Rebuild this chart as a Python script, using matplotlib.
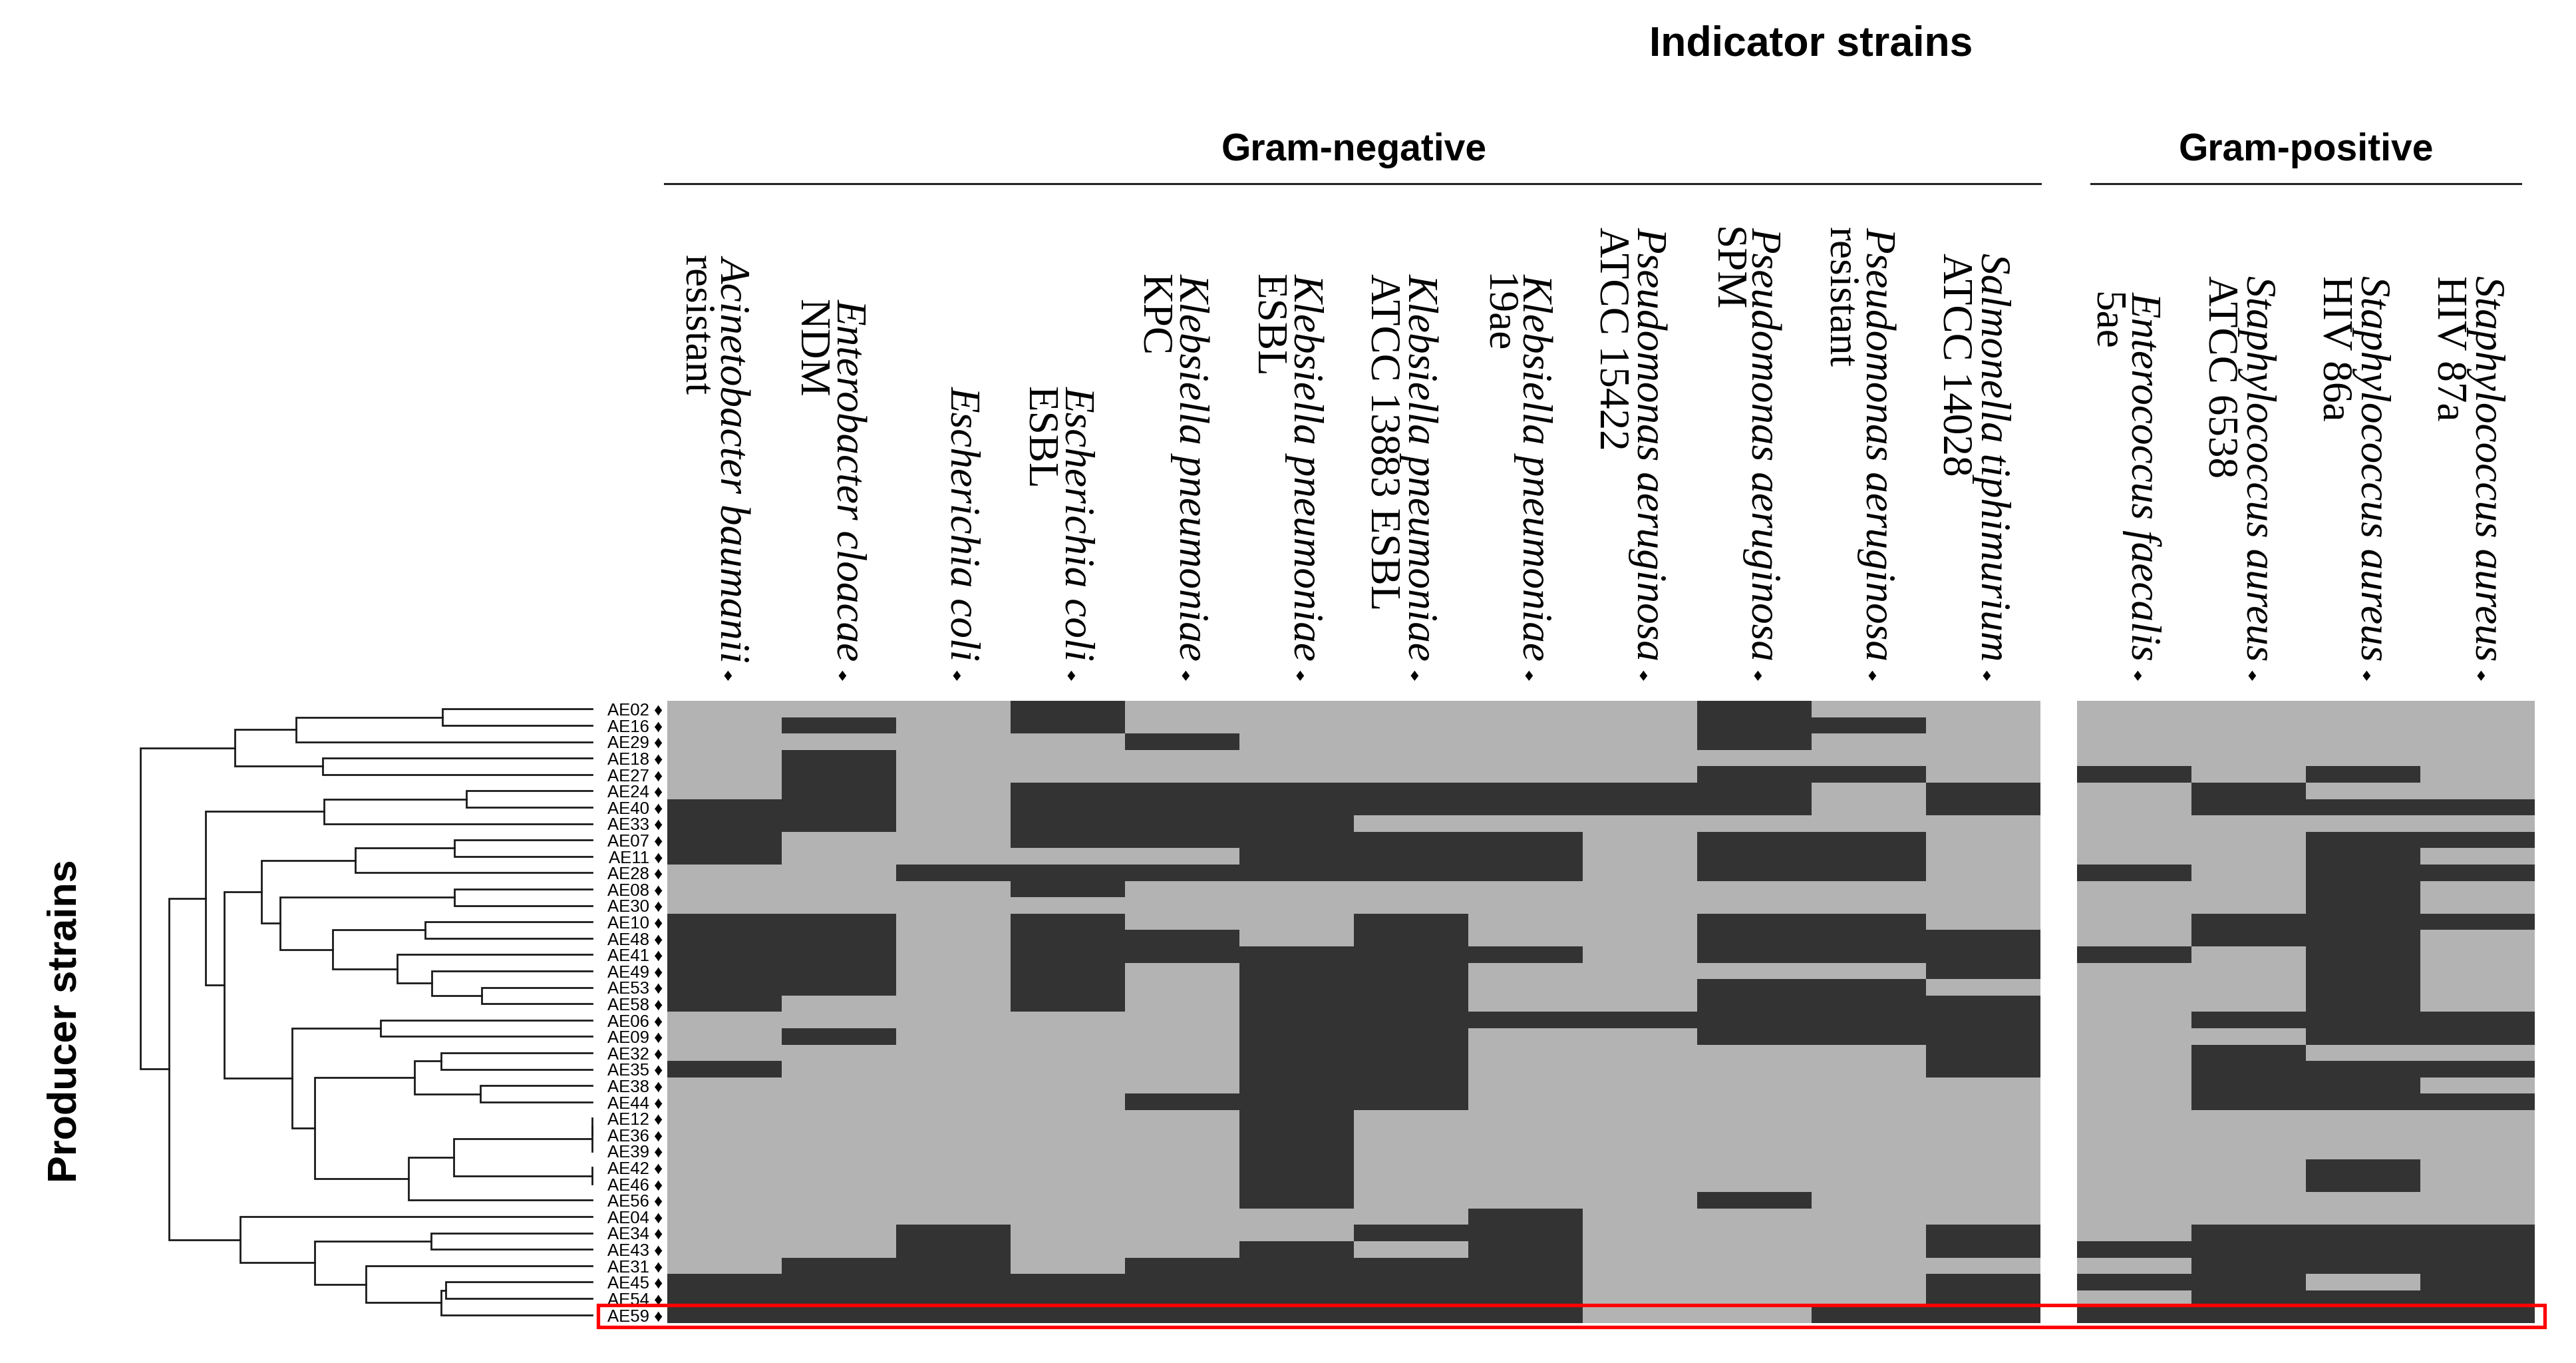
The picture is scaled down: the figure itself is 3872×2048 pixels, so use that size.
import numpy as np
import matplotlib
matplotlib.use("Agg")
import matplotlib.pyplot as plt
import matplotlib.transforms as mtransforms
from matplotlib.colors import ListedColormap
from matplotlib.patches import Rectangle

plt.rcParams['font.family'] = ['Liberation Sans', 'DejaVu Sans']

W, H = 3873, 2048

# producer strains, top to bottom (dendrogram order)
producers = ["AE02", "AE16", "AE29", "AE18", "AE27", "AE24", "AE40", "AE33",
             "AE07", "AE11", "AE28", "AE08", "AE30", "AE10", "AE48", "AE41",
             "AE49", "AE53", "AE58", "AE06", "AE09", "AE32", "AE35", "AE38",
             "AE44", "AE12", "AE36", "AE39", "AE42", "AE46", "AE56", "AE04",
             "AE34", "AE43", "AE31", "AE45", "AE54", "AE59"]

# indicator strains (first 12 gram-negative, last 4 gram-positive)
species = ["Acinetobacter baumanii", "Enterobacter cloacae", "Escherichia coli",
           "Escherichia coli", "Klebsiella pneumoniae", "Klebsiella pneumoniae",
           "Klebsiella pneumoniae", "Klebsiella pneumoniae", "Pseudomonas aeruginosa",
           "Pseudomonas aeruginosa", "Pseudomonas aeruginosa", "Salmonella tiphimurium",
           "Enterococcus faecalis", "Staphylococcus aureus", "Staphylococcus aureus",
           "Staphylococcus aureus"]
strains = ["resistant", "NDM", "", "ESBL", "KPC", "ESBL", "ATCC 13883 ESBL", "19ae",
           "ATCC 15422", "SPM", "resistant", "ATCC 14028",
           "5ae", "ATCC 6538", "HIV 86a", "HIV 87a"]
n_neg = 12

# producers showing inhibition of each indicator (dark cells)
hits = [
    ["AE40", "AE33", "AE07", "AE11", "AE10", "AE48", "AE41", "AE49", "AE53", "AE58",
     "AE35", "AE45", "AE54", "AE59"],
    ["AE16", "AE18", "AE27", "AE24", "AE40", "AE33", "AE10", "AE48", "AE41", "AE49",
     "AE53", "AE09", "AE31", "AE45", "AE54", "AE59"],
    ["AE28", "AE34", "AE43", "AE31", "AE45", "AE54", "AE59"],
    ["AE02", "AE16", "AE24", "AE40", "AE33", "AE07", "AE28", "AE08", "AE10", "AE48",
     "AE41", "AE49", "AE53", "AE58", "AE45", "AE54", "AE59"],
    ["AE29", "AE24", "AE40", "AE33", "AE07", "AE28", "AE48", "AE41", "AE44", "AE31",
     "AE45", "AE54", "AE59"],
    ["AE24", "AE40", "AE33", "AE07", "AE11", "AE28", "AE41", "AE49", "AE53", "AE58",
     "AE06", "AE09", "AE32", "AE35", "AE38", "AE44", "AE12", "AE36", "AE39", "AE42",
     "AE46", "AE56", "AE43", "AE31", "AE45", "AE54", "AE59"],
    ["AE24", "AE40", "AE07", "AE11", "AE28", "AE10", "AE48", "AE41", "AE49", "AE53",
     "AE58", "AE06", "AE09", "AE32", "AE35", "AE38", "AE44", "AE34", "AE31", "AE45",
     "AE54", "AE59"],
    ["AE24", "AE40", "AE07", "AE11", "AE28", "AE41", "AE06", "AE04", "AE34", "AE43",
     "AE31", "AE45", "AE54", "AE59"],
    ["AE24", "AE40", "AE06"],
    ["AE02", "AE16", "AE29", "AE27", "AE24", "AE40", "AE07", "AE11", "AE28", "AE10",
     "AE48", "AE41", "AE53", "AE58", "AE06", "AE09", "AE56"],
    ["AE16", "AE27", "AE07", "AE11", "AE28", "AE10", "AE48", "AE41", "AE53", "AE58",
     "AE06", "AE09", "AE59"],
    ["AE24", "AE40", "AE48", "AE41", "AE49", "AE58", "AE06", "AE09", "AE32", "AE35",
     "AE34", "AE43", "AE45", "AE54", "AE59"],
    ["AE27", "AE28", "AE41", "AE43", "AE45", "AE59"],
    ["AE24", "AE40", "AE10", "AE48", "AE06", "AE32", "AE35", "AE38", "AE44", "AE34",
     "AE43", "AE31", "AE45", "AE54", "AE59"],
    ["AE27", "AE40", "AE07", "AE11", "AE28", "AE08", "AE30", "AE10", "AE48", "AE41",
     "AE49", "AE53", "AE58", "AE06", "AE09", "AE35", "AE38", "AE44", "AE42", "AE46",
     "AE34", "AE43", "AE31", "AE54", "AE59"],
    ["AE40", "AE07", "AE28", "AE10", "AE06", "AE09", "AE35", "AE44", "AE34", "AE43",
     "AE31", "AE45", "AE54", "AE59"],
]

# hierarchical clustering merges: (left, right, height); ints refer to earlier merges
merges = [
    ("AE02", "AE16", 0.332), (0, "AE29", 0.655), ("AE18", "AE27", 0.596),
    (1, 2, 0.791), ("AE24", "AE40", 0.279), (4, "AE33", 0.593),
    ("AE07", "AE11", 0.305), (6, "AE28", 0.524), ("AE08", "AE30", 0.305),
    ("AE10", "AE48", 0.369), ("AE53", "AE58", 0.244), ("AE49", 10, 0.355),
    ("AE41", 11, 0.432), (9, 12, 0.574), (8, 13, 0.691), (7, 14, 0.732),
    ("AE06", "AE09", 0.469), ("AE32", "AE35", 0.334), ("AE38", "AE44", 0.248),
    (17, 18, 0.393), ("AE12", "AE36", 0.0), (20, "AE39", 0.0), ("AE42", "AE46", 0.0),
    (21, 22, 0.307), (23, "AE56", 0.406), (19, 24, 0.614), (16, 25, 0.664),
    (15, 26, 0.814), (5, 27, 0.855), ("AE34", "AE43", 0.356), ("AE45", "AE54", 0.324),
    (30, "AE59", 0.334), ("AE31", 31, 0.501), (29, 32, 0.614), ("AE04", 33, 0.779),
    (28, 34, 0.936), (3, 35, 1.0),
]

highlight = "AE59"


def fx(px):
    return px / W


def fy(py):
    return 1 - py / H


fig = plt.figure(figsize=(W / 100, H / 100), dpi=100)

top_px, bot_px = 1053, 1988
ax_neg = fig.add_axes([fx(1003), fy(bot_px), fx(3067) - fx(1003), (bot_px - top_px) / H])
ax_pos = fig.add_axes([fx(3122), fy(bot_px), fx(3810) - fx(3122), (bot_px - top_px) / H])
ax_dend = fig.add_axes([fx(211), fy(bot_px), fx(890) - fx(211), (bot_px - top_px) / H])

pos = {name: i for i, name in enumerate(producers)}
mat = np.zeros((len(producers), len(species)))
for j, col in enumerate(hits):
    for p in col:
        mat[pos[p], j] = 1

cmap = ListedColormap(["#b3b3b3", "#333333"])
ax_neg.imshow(mat[:, :n_neg], cmap=cmap, vmin=0, vmax=1, aspect="auto", interpolation="nearest")
ax_pos.imshow(mat[:, n_neg:], cmap=cmap, vmin=0, vmax=1, aspect="auto", interpolation="nearest")

for ax in (ax_neg, ax_pos, ax_dend):
    for s in ax.spines.values():
        s.set_visible(False)
    ax.set_xticks([])
ax_pos.set_yticks([])
ax_dend.set_yticks([])

ax_neg.set_yticks(range(len(producers)), labels=[p + " \u2666" for p in producers])
ax_neg.tick_params(axis="y", length=0, pad=5, labelsize=18.5)

# dendrogram
node_y, node_h = [], []


def where(ref):
    if isinstance(ref, str):
        return pos[ref], 0.0
    return node_y[ref], node_h[ref]


for a, b, h in merges:
    ya, ha = where(a)
    yb, hb = where(b)
    ax_dend.plot([ha, h, h, hb], [ya, ya, yb, yb], color="#1a1a1a", lw=2.0,
                 solid_joinstyle="miter", clip_on=False)
    node_y.append((ya + yb) / 2)
    node_h.append(h)
ax_dend.set_xlim(1.0, 0.0)
ax_dend.set_ylim(len(producers) - 0.5, -0.5)

# column headers
serif = ["Liberation Serif", "DejaVu Serif"]
sp_texts = []
for ax, off, ncol in ((ax_neg, 0, n_neg), (ax_pos, n_neg, len(species) - n_neg)):
    trans = mtransforms.blended_transform_factory(ax.transData, fig.transFigure)
    for k in range(ncol):
        t = ax.text(k, fy(993), species[off + k], rotation=-90, ha="center", va="bottom",
                    fontsize=45.5, family=serif, style="italic",
                    transform=mtransforms.offset_copy(trans, fig=fig, x=12, units="dots"))
        ax.text(k, fy(1017), "\u2666", ha="center", va="center", fontsize=15,
                family=["DejaVu Sans"],
                transform=mtransforms.offset_copy(trans, fig=fig, x=5, units="dots"))
        sp_texts.append((ax, trans, k, t, strains[off + k]))

fig.canvas.draw()
for ax, trans, k, t, st in sp_texts:
    if not st:
        continue
    bb = t.get_window_extent()
    ax.text(k, bb.y1 / fig.bbox.height, st, rotation=-90, ha="center", va="top",
            fontsize=45.5, family=serif,
            transform=mtransforms.offset_copy(trans, fig=fig, x=-44, units="dots"))

# group labels and rules
for ax, label, x0, x1 in ((ax_neg, "Gram-negative", -0.002, 1.0), (ax_pos, "Gram-positive", 0.03, 0.97)):
    trans = mtransforms.blended_transform_factory(ax.transAxes, fig.transFigure)
    ax.plot([x0, x1], [fy(276), fy(276)], color="#222222", lw=2.2, transform=trans, clip_on=False)
    ax.text(0.5, fy(226), label, ha="center", va="center", fontsize=41, fontweight="bold",
            transform=trans)

fig.text(fx(2722), fy(67), "Indicator strains", ha="center", va="center",
         fontsize=45, fontweight="bold")
fig.text(fx(99), fy(1534), "Producer strains", ha="center", va="center",
         rotation=90, fontsize=44, fontweight="bold")

# red frame around the highlighted producer
row = pos[highlight]
box_trans = mtransforms.blended_transform_factory(fig.transFigure, ax_neg.transData)
fig.add_artist(Rectangle((fx(899), row - 0.58), fx(3825) - fx(899), 1.33,
                         transform=box_trans, fill=False, edgecolor="#ff0000", lw=3.8))

fig.savefig("out.png", dpi=100)
